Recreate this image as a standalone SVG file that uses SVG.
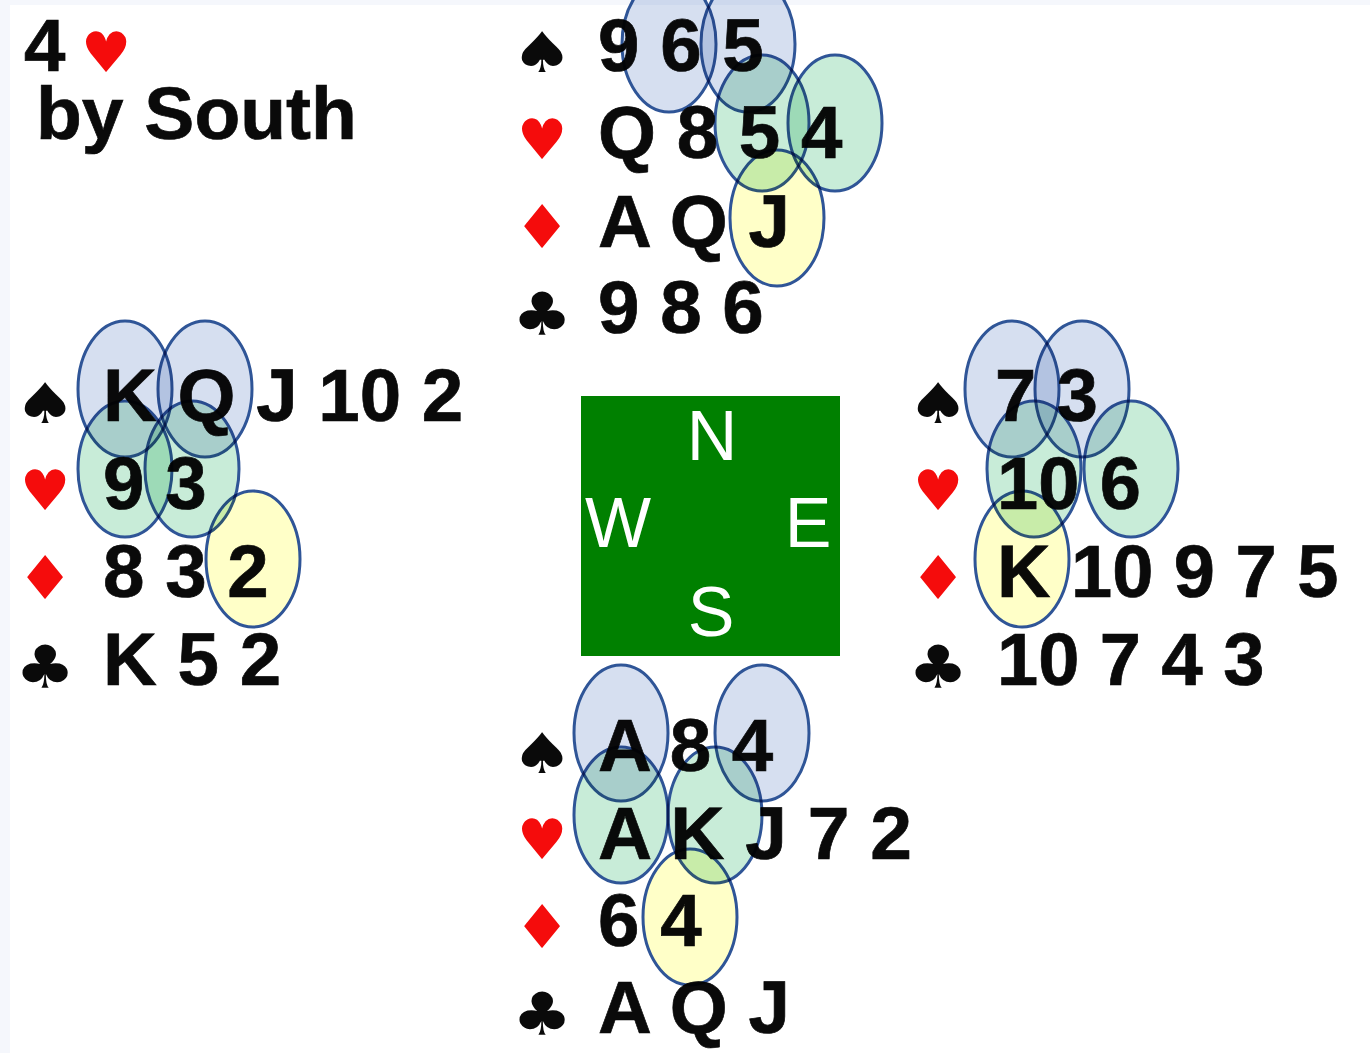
<svg xmlns="http://www.w3.org/2000/svg" width="1370" height="1053" viewBox="0 0 1370 1053">
<style>
.t{font-family:"Liberation Sans",Arial,sans-serif;font-weight:700;font-size:74.5px;fill:#0a0a0a;stroke:#0a0a0a;stroke-width:.7px}
.w{font-size:75px}
.e{font-size:74px}
.s{font-family:"DejaVu Sans",sans-serif;font-size:56px;text-anchor:middle}
.b{fill:#0a0a0a}.r{fill:#f50c0c}
.c{font-family:"Liberation Sans",Arial,sans-serif;font-size:70px;fill:#fff;text-anchor:middle}
ellipse{stroke:#2f5597;stroke-width:3;mix-blend-mode:multiply}
.sp{fill:#d6dff0}
.he{fill:#c8ecd8}
.di{fill:#ffffc8}
</style>
<defs>
<text id="sa" class="s b" transform="scale(1.25,1)">♠</text>
<text id="ha" class="s r">♥</text>
<text id="da" class="s r" transform="scale(1.14,1.08)">♦</text>
<text id="ca" class="s b" transform="scale(1.2,1.06)">♣</text>
</defs>
<rect width="1370" height="1053" fill="#fff"/>
<rect width="1370" height="5" fill="#f5f7fc"/>
<rect width="10" height="1053" fill="#f5f7fc"/>
<g id="contract">
<text class="t" x="24" y="71">4</text><use href="#ha" x="106" y="72"/>
<text class="t w" x="36" y="139">by South</text>
</g>
<g id="north">
<use href="#sa" transform="translate(542,72)"/><text class="t" x="598" y="71">9 6 5</text>
<use href="#ha" x="542" y="159"/><text class="t" x="598" y="158">Q 8 5 4</text>
<use href="#da" transform="translate(542,248)"/><text class="t" x="598" y="247">A Q J</text>
<use href="#ca" transform="translate(542,335)"/><text class="t" x="598" y="333">9 8 6</text>
</g>
<g id="west">
<use href="#sa" transform="translate(45,423)"/><text class="t" x="103" y="421">K Q J 10 2</text>
<use href="#ha" x="45" y="510"/><text class="t" x="103" y="509">9 3</text>
<use href="#da" transform="translate(45,599)"/><text class="t" x="103" y="597">8 3 2</text>
<use href="#ca" transform="translate(45,688)"/><text class="t" x="103" y="685">K 5 2</text>
</g>
<g id="east">
<use href="#sa" transform="translate(938,423)"/><text class="t e" x="995" y="421">7 3</text>
<use href="#ha" x="938" y="510"/><text class="t e" x="997" y="509">10 6</text>
<use href="#da" transform="translate(938,599)"/><text class="t e" x="997" y="597">K 10 9 7 5</text>
<use href="#ca" transform="translate(938,688)"/><text class="t e" x="997" y="685">10 7 4 3</text>
</g>
<g id="south">
<use href="#sa" transform="translate(542,773)"/><text class="t" x="598" y="771">A 8 4</text>
<use href="#ha" x="542" y="859"/><text class="t w" x="598" y="859">A K J 7 2</text>
<use href="#da" transform="translate(542,948)"/><text class="t" x="598" y="946">6 4</text>
<use href="#ca" transform="translate(542,1035)"/><text class="t" x="598" y="1033">A Q J</text>
</g>
<g id="table">
<rect x="581" y="396" width="259" height="260" fill="#008000"/>
<text class="c" x="712" y="460">N</text>
<text class="c" x="618" y="547">W</text>
<text class="c" x="808" y="547">E</text>
<text class="c" x="711" y="636">S</text>
</g>
<g id="connectors"/>
<g id="marks">
<ellipse class="sp" cx="669" cy="44" rx="47" ry="68"/>
<ellipse class="sp" cx="748" cy="44" rx="47" ry="68"/>
<ellipse class="he" cx="762" cy="123" rx="47" ry="68"/>
<ellipse class="he" cx="835" cy="123" rx="47" ry="68"/>
<ellipse class="di" cx="777" cy="218" rx="47" ry="68"/>
<ellipse class="sp" cx="125" cy="389" rx="47" ry="68"/>
<ellipse class="sp" cx="205" cy="389" rx="47" ry="68"/>
<ellipse class="he" cx="125" cy="469" rx="47" ry="68"/>
<ellipse class="he" cx="192" cy="469" rx="47" ry="68"/>
<ellipse class="di" cx="253" cy="559" rx="47" ry="68"/>
<ellipse class="sp" cx="1012" cy="389" rx="47" ry="68"/>
<ellipse class="sp" cx="1082" cy="389" rx="47" ry="68"/>
<ellipse class="he" cx="1034" cy="469" rx="47" ry="68"/>
<ellipse class="he" cx="1131" cy="469" rx="47" ry="68"/>
<ellipse class="di" cx="1022" cy="559" rx="47" ry="68"/>
<ellipse class="sp" cx="621" cy="733" rx="47" ry="68"/>
<ellipse class="sp" cx="762" cy="733" rx="47" ry="68"/>
<ellipse class="he" cx="621" cy="815" rx="47" ry="68"/>
<ellipse class="he" cx="715" cy="815" rx="47" ry="68"/>
<ellipse class="di" cx="690" cy="917" rx="47" ry="68"/>
</g>
</svg>
